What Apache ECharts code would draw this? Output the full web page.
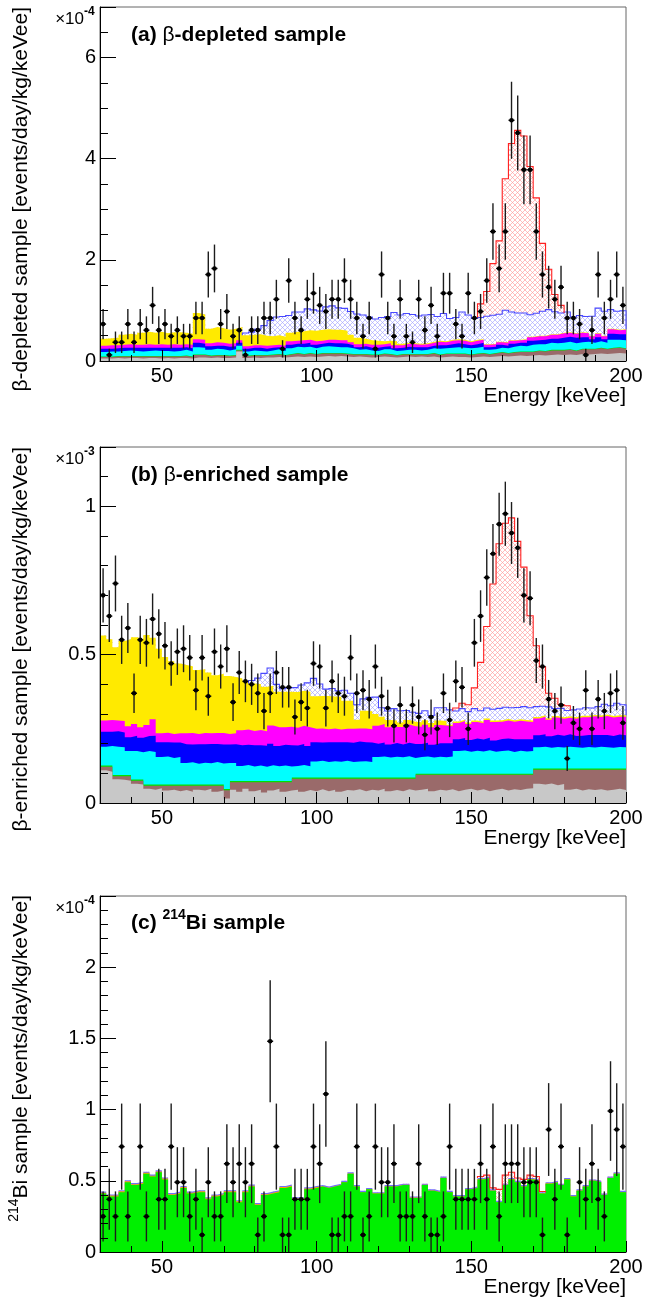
<!DOCTYPE html>
<html><head><meta charset="utf-8">
<script src="https://cdn.jsdelivr.net/npm/echarts@6.0.0/dist/echarts.min.js"></script>
<style>html,body{margin:0;padding:0;background:#fff;}#chart{width:645px;height:1300px;}</style>
</head><body><div id="chart"></div>
<script>
// ---- bin edges (keVee), 2 keV bins from 30 to 200 ----
const edges = [30,32,34,36,38,40,42,44,46,48,50,52,54,56,58,60,62,64,66,68,70,72,74,76,78,80,82,84,86,88,90,92,94,96,98,100,102,104,106,108,110,112,114,116,118,120,122,124,126,128,130,132,134,136,138,140,142,144,146,148,150,152,154,156,158,160,162,164,166,168,170,172,174,176,178,180,182,184,186,188,190,192,194,196,198,200];

// ---- panel (a) beta-depleted, units 1e-4 ----
const dataA = [0.73,0.12,0.37,0.37,0.73,0.37,0.73,0.61,1.10,0.61,
0.73,0.49,0.61,0.49,0.49,0.85,0.85,1.71,1.83,0.73,
0.98,0.49,0.61,0.12,0.61,0.61,0.85,0.85,1.22,0.24,
1.59,0.85,0.61,1.22,1.34,1.10,0.98,1.22,1.22,1.59,
1.22,0.85,0.49,0.85,0.24,1.71,0.85,0.49,1.22,0.49,
0.37,1.22,0.61,1.10,0.49,1.34,1.34,0.73,0.49,1.34,
0.85,0.98,1.59,2.56,1.83,2.56,4.76,4.51,3.78,3.78,
2.56,1.71,1.46,1.22,1.46,0.85,0.85,0.73,0.12,0.61,
1.71,0.85,1.22,1.71,1.10];
const aGrey = [0.05,0.05,0.06,0.05,0.06,0.06,0.05,0.06,0.06,0.05,
0.06,0.05,0.06,0.06,0.05,0.07,0.07,0.06,0.07,0.06,
0.06,0.07,0.19,0.06,0.07,0.06,0.07,0.07,0.08,0.07,
0.08,0.09,0.08,0.09,0.08,0.09,0.10,0.09,0.10,0.09,
0.08,0.09,0.08,0.07,0.08,0.09,0.08,0.07,0.08,0.09,
0.08,0.09,0.08,0.09,0.07,0.08,0.09,0.08,0.08,0.07,
0.08,0.09,0.08,0.09,0.10,0.09,0.10,0.11,0.10,0.11,
0.12,0.11,0.12,0.13,0.12,0.13,0.12,0.14,0.13,0.14,
0.15,0.14,0.15,0.16,0.15];
const aBrown = [0.03,0.03,0.03,0.04,0.03,0.03,0.04,0.03,0.03,0.04,
0.03,0.04,0.03,0.04,0.03,0.05,0.05,0.04,0.04,0.05,
0.04,0.04,0.02,0.04,0.04,0.05,0.04,0.05,0.05,0.04,
0.05,0.06,0.05,0.06,0.05,0.06,0.05,0.06,0.05,0.05,
0.05,0.04,0.05,0.05,0.04,0.05,0.05,0.04,0.05,0.04,
0.05,0.04,0.05,0.06,0.05,0.06,0.05,0.06,0.06,0.05,
0.06,0.06,0.05,0.06,0.07,0.06,0.07,0.07,0.08,0.07,
0.08,0.08,0.09,0.08,0.09,0.09,0.08,0.09,0.10,0.09,
0.10,0.09,0.10,0.10,0.09];
const aGreen = [0.01,0.01,0.01,0.01,0.01,0.01,0.01,0.01,0.01,0.01,
0.01,0.01,0.01,0.01,0.01,0.01,0.01,0.01,0.01,0.01,
0.01,0.01,0.01,0.01,0.01,0.01,0.01,0.01,0.01,0.01,
0.01,0.01,0.01,0.01,0.01,0.01,0.01,0.01,0.01,0.01,
0.01,0.01,0.01,0.01,0.01,0.01,0.01,0.01,0.01,0.01,
0.01,0.01,0.01,0.01,0.01,0.01,0.01,0.01,0.01,0.01,
0.01,0.01,0.01,0.01,0.01,0.01,0.01,0.01,0.01,0.01,
0.01,0.01,0.01,0.01,0.01,0.01,0.01,0.01,0.01,0.01,
0.01,0.01,0.01,0.01,0.01];
const aCyan = [0.09,0.10,0.09,0.10,0.11,0.10,0.09,0.10,0.11,0.10,
0.10,0.09,0.10,0.11,0.10,0.14,0.13,0.11,0.12,0.11,
0.10,0.11,0.08,0.08,0.09,0.08,0.07,0.08,0.09,0.08,
0.11,0.12,0.13,0.12,0.11,0.12,0.13,0.12,0.11,0.12,
0.11,0.08,0.09,0.08,0.07,0.08,0.09,0.08,0.07,0.08,
0.08,0.07,0.08,0.09,0.11,0.10,0.11,0.12,0.11,0.12,
0.11,0.12,0.08,0.07,0.08,0.09,0.10,0.11,0.10,0.13,
0.12,0.13,0.14,0.13,0.14,0.15,0.14,0.13,0.14,0.12,
0.13,0.12,0.16,0.15,0.16];
const aBlue = [0.06,0.05,0.06,0.06,0.05,0.06,0.07,0.06,0.05,0.06,
0.06,0.07,0.06,0.05,0.06,0.09,0.08,0.07,0.06,0.07,
0.07,0.06,0.06,0.05,0.05,0.06,0.05,0.05,0.04,0.05,
0.07,0.06,0.07,0.08,0.07,0.06,0.07,0.07,0.08,0.07,
0.06,0.05,0.06,0.05,0.06,0.05,0.06,0.05,0.05,0.06,
0.05,0.06,0.05,0.05,0.07,0.06,0.07,0.08,0.07,0.06,
0.07,0.08,0.05,0.05,0.06,0.05,0.06,0.06,0.07,0.08,
0.08,0.09,0.08,0.09,0.10,0.10,0.11,0.10,0.09,0.07,
0.08,0.07,0.12,0.11,0.12];
const aMagenta = [0.06,0.07,0.06,0.06,0.07,0.06,0.06,0.07,0.06,0.07,
0.06,0.07,0.06,0.06,0.07,0.07,0.08,0.06,0.07,0.06,
0.06,0.06,0.05,0.05,0.05,0.05,0.06,0.05,0.05,0.05,
0.07,0.06,0.07,0.06,0.07,0.06,0.06,0.07,0.06,0.07,
0.06,0.06,0.05,0.06,0.06,0.05,0.06,0.06,0.05,0.06,
0.06,0.05,0.06,0.06,0.07,0.06,0.07,0.06,0.07,0.06,
0.07,0.06,0.05,0.05,0.05,0.06,0.06,0.05,0.06,0.07,
0.08,0.07,0.08,0.08,0.09,0.08,0.08,0.09,0.08,0.06,
0.07,0.06,0.09,0.08,0.09];
const aYellow = [0.14,0.14,0.15,0.20,0.21,0.20,0.24,0.25,0.24,0.25,
0.23,0.24,0.25,0.23,0.22,0.52,0.50,0.29,0.30,0.29,
0.28,0.29,0.26,0.22,0.21,0.22,0.20,0.18,0.19,0.18,
0.17,0.18,0.18,0.19,0.21,0.22,0.21,0.20,0.21,0.19,
0.15,0.13,0.10,0.09,0.08,0.06,0.05,0.08,0.03,0.02,
0.02,0.02,0.02,0.02,0.02,0.02,0.02,0.02,0.02,0.02,
0.02,0.01,0.01,0.01,0.01,0.01,0.01,0.01,0.01,0.01,
0.01,0.01,0.01,0.01,0.01,0.01,0.01,0.01,0.01,0.01,
0.01,0.01,0.01,0.01,0.01];
const aHatch = [0,0,0,0,0,0,0,0,0,0,
0,0,0,0,0,0,0,0,0,0,
0,0,0,0.045,0.05,0.10,0.20,0.31,0.36,0.40,
0.34,0.39,0.38,0.42,0.41,0.37,0.44,0.47,0.43,0.44,
0.46,0.47,0.47,0.46,0.43,0.47,0.48,0.57,0.57,0.58,
0.57,0.55,0.56,0.54,0.48,0.55,0.42,0.43,0.55,0.52,
0.42,0.43,0.555,0.565,0.545,0.635,0.56,0.53,0.52,0.435,
0.445,0.485,0.485,0.445,0.39,0.40,0.32,0.33,0.32,0.385,
0.495,0.485,0.375,0.365,0.365];
const aRed = [0,0,0,0,0,0,0,0,0,0,
0,0,0,0,0,0,0,0,0,0,
0,0,0,0,0,0,0,0,0,0,
0,0,0,0,0,0,0,0,0,0,
0,0,0,0,0,0,0,0,0,0,
0,0,0,0,0,0,0,0,0,0,
0,0.27,0.49,1.02,1.45,2.60,3.33,3.61,3.50,2.93,
2.28,1.34,0.80,0.34,0.15,0,0,0,0,0,
0,0,0,0,0];

// ---- panel (b) beta-enriched, units 1e-3 ----
const dataB = [0.70,0.63,0.74,0.55,0.59,0.37,0.55,0.54,0.62,0.57,
0.53,0.47,0.51,0.52,0.49,0.38,0.49,0.36,0.51,0.46,
0.52,0.34,0.44,0.41,0.40,0.37,0.31,0.37,0.44,0.39,
0.39,0.29,0.34,0.32,0.47,0.46,0.32,0.41,0.37,0.36,
0.49,0.37,0.38,0.35,0.46,0.36,0.32,0.26,0.33,0.26,
0.33,0.29,0.23,0.29,0.25,0.37,0.28,0.41,0.39,0.25,
0.54,0.63,0.76,0.84,0.94,0.975,0.91,0.86,0.70,0.69,
0.48,0.46,0.35,0.31,0.33,0.15,0.27,0.25,0.38,0.25,
0.35,0.31,0.37,0.38,0.27];
const bGrey = [0.110,0.105,0.080,0.078,0.075,0.065,0.062,0.048,0.045,0.050,
0.042,0.045,0.040,0.044,0.038,0.045,0.042,0.048,0.038,0.042,
0.015,0.045,0.038,0.048,0.040,0.045,0.035,0.042,0.048,0.038,
0.042,0.045,0.038,0.044,0.040,0.046,0.040,0.045,0.038,0.044,
0.042,0.046,0.040,0.045,0.042,0.048,0.040,0.044,0.040,0.046,
0.042,0.045,0.048,0.040,0.045,0.042,0.046,0.040,0.045,0.048,
0.042,0.046,0.040,0.045,0.048,0.042,0.046,0.044,0.048,0.050,
0.065,0.062,0.066,0.060,0.064,0.045,0.048,0.042,0.046,0.044,
0.046,0.042,0.045,0.048,0.044];
const bBrown = [0.012,0.017,0.010,0.012,0.015,0.010,0.013,0.010,0.013,0.008,
0.016,0.013,0.018,0.014,0.020,0.013,0.016,0.010,0.020,0.016,
0.028,0.025,0.032,0.022,0.030,0.025,0.035,0.028,0.022,0.032,
0.028,0.037,0.044,0.038,0.042,0.036,0.042,0.037,0.044,0.038,
0.040,0.036,0.042,0.037,0.040,0.034,0.042,0.038,0.042,0.036,
0.040,0.050,0.047,0.055,0.050,0.053,0.049,0.055,0.050,0.047,
0.053,0.049,0.055,0.050,0.047,0.053,0.049,0.051,0.047,0.045,
0.047,0.050,0.046,0.052,0.048,0.067,0.064,0.070,0.066,0.068,
0.066,0.070,0.067,0.064,0.068];
const bGreen = [0.004,0.004,0.004,0.004,0.004,0.004,0.004,0.004,0.004,0.004,
0.004,0.004,0.004,0.004,0.004,0.004,0.004,0.004,0.004,0.004,
0.004,0.004,0.004,0.004,0.004,0.004,0.004,0.004,0.004,0.004,
0.004,0.004,0.004,0.004,0.004,0.004,0.004,0.004,0.004,0.004,
0.004,0.004,0.004,0.004,0.004,0.004,0.004,0.004,0.004,0.004,
0.004,0.004,0.004,0.004,0.004,0.004,0.004,0.004,0.004,0.004,
0.004,0.004,0.004,0.004,0.004,0.004,0.004,0.004,0.004,0.004,
0.004,0.004,0.004,0.004,0.004,0.004,0.004,0.004,0.004,0.004,
0.004,0.004,0.004,0.004,0.004];
const bCyan = [0.064,0.066,0.096,0.094,0.081,0.096,0.092,0.113,0.110,0.093,
0.095,0.090,0.093,0.073,0.075,0.070,0.074,0.072,0.076,0.071,
0.088,0.061,0.051,0.054,0.049,0.052,0.048,0.053,0.050,0.052,
0.049,0.039,0.042,0.038,0.054,0.056,0.052,0.055,0.053,0.056,
0.052,0.054,0.055,0.052,0.069,0.071,0.067,0.070,0.068,0.072,
0.066,0.056,0.058,0.054,0.057,0.055,0.058,0.076,0.078,0.074,
0.077,0.075,0.079,0.074,0.076,0.078,0.073,0.077,0.075,0.076,
0.072,0.074,0.070,0.073,0.071,0.074,0.072,0.070,0.073,0.071,
0.074,0.072,0.070,0.073,0.072];
const bBlue = [0.050,0.048,0.052,0.050,0.047,0.052,0.049,0.051,0.055,0.050,
0.048,0.052,0.049,0.063,0.060,0.066,0.062,0.065,0.061,0.064,
0.062,0.063,0.070,0.068,0.072,0.069,0.071,0.073,0.068,0.070,
0.072,0.069,0.071,0.068,0.065,0.062,0.067,0.064,0.066,0.063,
0.065,0.067,0.064,0.066,0.045,0.047,0.044,0.046,0.043,0.045,
0.047,0.044,0.046,0.043,0.045,0.047,0.044,0.040,0.042,0.039,
0.041,0.040,0.042,0.038,0.041,0.040,0.043,0.039,0.041,0.040,
0.040,0.042,0.039,0.041,0.040,0.042,0.038,0.041,0.040,0.042,
0.039,0.041,0.040,0.042,0.040];
const bMagenta = [0.038,0.040,0.036,0.038,0.037,0.039,0.035,0.037,0.055,0.030,
0.032,0.029,0.031,0.037,0.039,0.035,0.038,0.036,0.037,0.039,
0.036,0.037,0.050,0.052,0.048,0.051,0.049,0.061,0.063,0.059,
0.062,0.060,0.061,0.063,0.045,0.047,0.044,0.046,0.043,0.045,
0.047,0.044,0.046,0.045,0.060,0.062,0.058,0.061,0.059,0.062,
0.060,0.058,0.061,0.059,0.062,0.060,0.058,0.055,0.057,0.054,
0.056,0.055,0.060,0.062,0.058,0.061,0.059,0.062,0.060,0.058,
0.057,0.059,0.056,0.058,0.057,0.055,0.058,0.062,0.060,0.063,
0.061,0.064,0.062,0.060,0.063];
const bYellow = [0.287,0.272,0.247,0.270,0.293,0.293,0.298,0.303,0.275,0.285,
0.255,0.245,0.235,0.230,0.225,0.215,0.215,0.205,0.195,0.200,
0.195,0.190,0.175,0.165,0.160,0.155,0.150,0.134,0.120,0.120,
0.118,0.120,0.118,0.120,0.110,0.110,0.112,0.108,0.110,0.095,
0.095,0.030,0.060,0.060,0.040,0.025,0.025,0.015,0.015,0.015,
0.015,0.015,0.015,0.015,0.015,0.015,0.005,0.005,0.005,0.005,
0.005,0.005,0.005,0.005,0.005,0.005,0.005,0.005,0.005,0.005,
0.005,0.005,0.005,0.005,0.005,0.005,0.005,0.005,0.005,0.005,
0.005,0.005,0.005,0.005,0.005];
const bHatch = [0,0,0,0,0,0,0,0,0,0,
0,0,0,0,0,0,0,0,0,0,
0,0,0,0,0.010,0.020,0.045,0.060,0.025,0.010,
0.013,0.015,0.020,0.030,0.060,0.040,0.023,0.027,0.020,0.035,
0.025,0.050,0.040,0.047,0.057,0.030,0.030,0.040,0.040,0.032,
0.032,0.030,0.032,0.025,0.043,0.045,0.050,0.035,0.037,0.037,
0.040,0.037,0.035,0.038,0.040,0.040,0.042,0.040,0.045,0.043,
0.035,0.030,0.038,0.025,0.030,0.020,0.025,0.023,0.027,0.023,
0.030,0.035,0.035,0.040,0.035];
const bRed = [0,0,0,0,0,0,0,0,0,0,
0,0,0,0,0,0,0,0,0,0,
0,0,0,0,0,0,0,0,0,0,
0,0,0,0,0,0,0,0,0,0,
0,0,0,0,0,0,0,0,0,0,
0,0,0,0,0,0,0,0.010,0.018,0.023,
0.070,0.163,0.275,0.422,0.555,0.620,0.640,0.560,0.470,0.310,
0.205,0.133,0.046,0.035,0.013,0.016,0,0,0,0,
0,0,0,0,0];

// ---- panel (c) 214Bi, units 1e-4 ----
const dataC = [0.25,0.37,0.25,0.74,0.25,null,0.74,0.25,null,0.37,
0.37,0.74,0.49,0.49,0.25,0.37,0.12,0.49,0.25,0.25,
0.62,0.49,0.62,0.49,0.62,0.12,0.25,1.48,0.74,0.12,
0.12,0.37,0.37,0.37,0.74,0.62,1.11,0.12,0.12,0.25,
0.25,0.74,0.12,0.25,0.74,0.49,0.49,0.62,0.25,0.25,
0.25,0.62,0.25,0.12,0.12,0.25,0.74,0.37,0.37,0.37,
0.37,0.62,0.37,0.74,0.25,0.62,0.62,0.62,0.49,0.49,
0.49,0.12,0.86,0.37,0.74,0.12,null,0.49,0.37,0.62,
0.37,0.25,0.99,0.86,0.74];
const cGreen = [0.41,0.39,0.39,0.42,0.49,0.47,0.48,0.55,0.53,0.56,
0.51,0.40,0.41,0.45,0.41,0.42,0.42,0.37,0.39,0.40,
0.42,0.42,0.35,0.42,0.46,0.33,0.40,0.41,0.42,0.45,
0.46,0.37,0.37,0.44,0.45,0.46,0.45,0.46,0.47,0.49,
0.55,0.46,0.42,0.44,0.41,0.41,0.46,0.46,0.47,0.47,
0.38,0.38,0.47,0.43,0.42,0.52,0.42,0.39,0.39,0.44,
0.45,0.51,0.52,0.43,0.35,0.47,0.51,0.49,0.46,0.51,
0.50,0.41,0.48,0.49,0.47,0.51,0.39,0.43,0.46,0.50,
0.49,0.40,0.52,0.55,0.42];
const cOrange = [0.006,0.006,0.006,0.006,0.006,0.006,0.006,0.006,0.006,0.006,
0.006,0.006,0.006,0.006,0.006,0.006,0.006,0.006,0.006,0.006,
0.006,0.006,0.006,0.006,0.006,0.006,0.006,0.006,0.006,0.006,
0.006,0.006,0.006,0.006,0.006,0.002,0.002,0.002,0.002,0.002,
0.002,0.002,0.002,0.002,0.002,0.002,0.002,0.002,0.002,0.002,
0.002,0.002,0.002,0.002,0.002,0.002,0.002,0.002,0.002,0.002,
0.002,0.002,0.002,0.002,0.002,0.002,0.002,0.002,0.002,0.002,
0.002,0.002,0.002,0.002,0.002,0.002,0.002,0.002,0.002,0.002,
0.002,0.002,0.002,0.002,0.002];
const cViolet = [0.008,0.008,0.008,0.008,0.008,0.008,0.008,0.008,0.008,0.008,
0.008,0.008,0.008,0.008,0.008,0.008,0.008,0.008,0.008,0.008,
0.008,0.008,0.008,0.008,0.008,0.008,0.008,0.008,0.008,0.008,
0.008,0.008,0.008,0.008,0.008,0.008,0.008,0.008,0.008,0.008,
0.008,0.008,0.008,0.008,0.008,0.008,0.008,0.008,0.008,0.008,
0.008,0.008,0.008,0.008,0.008,0.008,0.008,0.008,0.008,0.008,
0.008,0.008,0.008,0.008,0.008,0.008,0.008,0.008,0.008,0.008,
0.008,0.008,0.008,0.008,0.008,0.008,0.008,0.008,0.008,0.008,
0.008,0.008,0.008,0.008,0.008];
const cRed = [0,0,0,0,0,0,0,0,0,0,
0,0,0,0,0,0,0,0,0,0,
0,0,0,0,0,0,0,0,0,0,
0,0,0,0,0,0,0,0,0,0,
0,0,0,0,0,0,0,0,0,0,
0,0,0,0,0,0,0,0,0,0,
0,0.01,0.01,0.01,0.08,0.06,0.04,0.02,0.04,0.02,
0.02,0.005,0,0,0,0,0,0,0,0,
0,0,0,0,0];

// counting unit per panel (for Poisson error bars)
const unitA = 0.122, unitB = 0.012, unitC = 0.1235;

// ---- tick labels ----
const xLabels = [50, 100, 150, 200];

const FF = "'Liberation Sans', Arial, Helvetica, sans-serif";
const NB = edges.length - 1;

function hatch(bg, line) {
  const s = 5;
  const c = document.createElement('canvas'); c.width = s; c.height = s;
  const x = c.getContext('2d');
  x.fillStyle = bg; x.fillRect(0, 0, s, s);
  x.strokeStyle = line; x.lineWidth = 0.65;
  x.beginPath();
  x.moveTo(-1, -1); x.lineTo(s + 1, s + 1);
  x.moveTo(s + 1, -1); x.lineTo(-1, s + 1);
  x.stroke();
  return { image: c, repeat: 'repeat' };
}
const HB = hatch('#ffffff', '#a4a4ff');
const HR = hatch('#ffffff', '#ff9a9a');

function cumulative(layers) {
  const tops = [];
  let run = new Array(NB).fill(0);
  layers.forEach(l => { run = run.map((v, i) => v + (l[i] || 0)); tops.push(run.slice()); });
  return tops;
}
function stepData(top) {
  const d = top.map((v, i) => [edges[i], v]);
  d.push([edges[NB], top[NB - 1]]);
  return d;
}
function areaSeries(g, top, fill, z) {
  return { type: 'line', xAxisIndex: g * 2, yAxisIndex: g, data: stepData(top), step: 'end',
    symbol: 'none', showSymbol: false, lineStyle: { width: 0, opacity: 0 },
    areaStyle: { color: fill, opacity: 1 }, z: z, silent: true, animation: false };
}
function outlineSeries(g, low, top, comp, color, z) {
  const segs = []; let s = -1;
  for (let i = 0; i < NB; i++) {
    if (comp[i] > 0) { if (s < 0) s = i; }
    else if (s >= 0) { segs.push([s, i - 1]); s = -1; }
  }
  if (s >= 0) segs.push([s, NB - 1]);
  return { type: 'custom', xAxisIndex: g * 2, yAxisIndex: g, z: z, silent: true, animation: false,
    dimensions: ['x', 'y'], encode: { x: 0, y: 1 },
    data: segs.map(sg => [edges[sg[0]], top[sg[0]]]),
    renderItem: function (params, api) {
      const sg = segs[params.dataIndex]; const a = sg[0], b = sg[1];
      const pts = [api.coord([edges[a], low[a]])];
      for (let i = a; i <= b; i++) {
        pts.push(api.coord([edges[i], top[i]]));
        pts.push(api.coord([edges[i + 1], top[i]]));
      }
      pts.push(api.coord([edges[b + 1], low[b]]));
      return { type: 'polyline', shape: { points: pts }, style: { stroke: color, lineWidth: 1.1, fill: null } };
    } };
}
function pointsSeries(g, vals, unit, z) {
  const d = [];
  vals.forEach((v, i) => { if (v != null) d.push([(edges[i] + edges[i + 1]) / 2, v, Math.sqrt(v * unit)]); });
  return { type: 'custom', xAxisIndex: g * 2, yAxisIndex: g, z: z, silent: true, animation: false,
    dimensions: ['x', 'y', 'e'], encode: { x: 0, y: 1 }, data: d,
    renderItem: function (params, api) {
      const x = api.value(0), v = api.value(1), e = api.value(2);
      const p = api.coord([x, v]);
      const lo = api.coord([x, Math.max(0, v - e)]);
      const hi = api.coord([x, v + e]);
      return { type: 'group', children: [
        { type: 'line', shape: { x1: p[0], y1: lo[1], x2: p[0], y2: hi[1] }, style: { stroke: '#1c1c1c', lineWidth: 1.4 } },
        { type: 'line', shape: { x1: p[0] - 3, y1: p[1], x2: p[0] + 3, y2: p[1] }, style: { stroke: '#000', lineWidth: 1.4 } },
        { type: 'circle', shape: { cx: p[0], cy: p[1], r: 2.3 }, style: { fill: '#000' } }
      ] };
    } };
}

const C = { grey: '#c8c8c8', brown: '#9a6a6a', green: '#00e000', cyan: '#00ffff', blue: '#0000ff',
  magenta: '#ff00ff', yellow: '#ffea00', bgreen: '#00f000', orange: '#ffa500', violet: '#7070ff' };

const panels = [
  { top: 7, h: 354, ymax: 7, yint: 2, minor: 4, unit: unitA, data: dataA, exp: '-4',
    layers: [aGrey, aBrown, aGreen, aCyan, aBlue, aMagenta, aYellow, aHatch, aRed],
    fills: [C.grey, C.brown, C.green, C.cyan, C.blue, C.magenta, C.yellow, HB, HR],
    outlines: { 7: '#4848ff', 8: '#ff2020' } },
  { top: 447, h: 356, ymax: 1.2, yint: 0.5, minor: 5, unit: unitB, data: dataB, exp: '-3',
    layers: [bGrey, bBrown, bGreen, bCyan, bBlue, bMagenta, bYellow, bHatch, bRed],
    fills: [C.grey, C.brown, C.green, C.cyan, C.blue, C.magenta, C.yellow, HB, HR],
    outlines: { 7: '#4848ff', 8: '#ff2020' } },
  { top: 896, h: 356, ymax: 2.5, yint: 0.5, minor: 5, unit: unitC, data: dataC, exp: '-4',
    layers: [cGreen, cOrange, cViolet, cRed],
    fills: [C.bgreen, C.orange, C.violet, HR],
    outlines: { 3: '#ff2020' } }
];

const grids = [], xAxes = [], yAxes = [], series = [];
panels.forEach((p, g) => {
  grids.push({ left: 100, top: p.top, width: 526, height: p.h, show: true, borderColor: '#666', borderWidth: 1,
    backgroundColor: 'rgba(0,0,0,0)', containLabel: false, outerBoundsMode: 'none' });
  xAxes.push({ gridIndex: g, type: 'value', min: 30, max: 200, interval: 10, z: 40,
    axisLine: { show: true, onZero: false, lineStyle: { color: '#000', width: 1 } },
    axisTick: { show: true, inside: true, length: 6, lineStyle: { color: '#000', width: 1 } },
    axisLabel: { show: true, margin: 5, fontSize: 20, fontFamily: FF, color: '#000',
      formatter: v => (xLabels.indexOf(v) >= 0 ? String(v) : '') },
    splitLine: { show: false } });
  xAxes.push({ gridIndex: g, type: 'value', min: 30, max: 200, position: 'bottom', z: 40,
    axisLine: { show: false, onZero: false },
    axisTick: { show: true, inside: true, length: 11, customValues: xLabels, lineStyle: { color: '#000', width: 1 } },
    axisLabel: { show: false }, splitLine: { show: false } });
  yAxes.push({ gridIndex: g, type: 'value', min: 0, max: p.ymax, interval: p.yint, z: 40,
    axisLine: { show: true, onZero: false, lineStyle: { color: '#000', width: 1 } },
    axisTick: { show: true, inside: true, length: 16, lineStyle: { color: '#000', width: 1 } },
    minorTick: { show: true, splitNumber: p.minor, length: 8, lineStyle: { color: '#000', width: 1 } },
    axisLabel: { show: true, margin: 4, fontSize: 20, fontFamily: FF, color: '#000', showMaxLabel: false,
      formatter: v => String(v) },
    splitLine: { show: false }, minorSplitLine: { show: false } });
  const tops = cumulative(p.layers);
  const n = tops.length;
  for (let k = n - 1; k >= 0; k--) series.push(areaSeries(g, tops[k], p.fills[k], 2 + (n - 1 - k)));
  Object.keys(p.outlines).forEach(ks => {
    const k = +ks; const low = k > 0 ? tops[k - 1] : new Array(NB).fill(0);
    series.push(outlineSeries(g, low, tops[k], p.layers[k], p.outlines[k], 20 + k));
  });
  series.push(pointsSeries(g, p.data, p.unit, 30));
});

// ---- text helpers ----
const mctx = document.createElement('canvas').getContext('2d');
function tw(t, font) { mctx.font = font; return mctx.measureText(t).width; }
function txt(t, x, y, font, align, valign) {
  return { type: 'text', x: x, y: y, silent: true,
    style: { text: t, font: font, fill: '#000', textAlign: align, align: align,
      textVerticalAlign: valign, verticalAlign: valign } };
}
function row(parts, x0, y) {
  const out = []; let x = x0;
  parts.forEach(pt => { out.push(txt(pt.t, x, y + (pt.dy || 0), pt.f, 'left', 'middle')); x += tw(pt.t, pt.f); });
  return out;
}
const B21 = 'bold 21px ' + FF, N21 = '21px ' + FF;
const graphics = [];
graphics.push(...row([{ t: '(a) ', f: B21 }, { t: 'β', f: N21 }, { t: '-depleted sample', f: B21 }], 131, 35));
graphics.push(...row([{ t: '(b) ', f: B21 }, { t: 'β', f: N21 }, { t: '-enriched sample', f: B21 }], 131, 475));
graphics.push(...row([{ t: '(c) ', f: B21 }, { t: '214', f: 'bold 14px ' + FF, dy: -8 }, { t: 'Bi sample', f: B21 }], 131, 923));
panels.forEach(p => {
  graphics.push(txt('×10', 84, p.top + 12, '17px ' + FF, 'right', 'middle'));
  graphics.push(txt(p.exp, 84, p.top + 5, 'bold 12px ' + FF, 'left', 'middle'));
  graphics.push(txt('Energy [keVee]', 626, p.top + p.h + 35, N21, 'right', 'middle'));
});
const yt = [
  { y: 7, parts: [{ t: 'β-depleted sample [events/day/kg/keVee]', f: N21 }] },
  { y: 447, parts: [{ t: 'β-enriched sample [events/day/kg/keVee]', f: N21 }] },
  { y: 895, parts: [{ t: '214', f: '14px ' + FF, dy: -7 }, { t: 'Bi sample [events/day/kg/keVee]', f: N21 }] }
];
yt.forEach(o => {
  const children = []; let x = 0;
  for (let k = o.parts.length - 1; k >= 0; k--) {
    const pt = o.parts[k];
    children.push(txt(pt.t, x, pt.dy || 0, pt.f, 'right', 'middle'));
    x -= tw(pt.t, pt.f);
  }
  graphics.push({ type: 'group', x: 21, y: o.y, rotation: Math.PI / 2, children: children });
});

const chart = echarts.init(document.getElementById('chart'), null, { renderer: 'canvas' });
chart.setOption({
  animation: false,
  backgroundColor: '#ffffff',
  grid: grids, xAxis: xAxes, yAxis: yAxes, series: series,
  graphic: { elements: graphics }
});
</script>
</body></html>
